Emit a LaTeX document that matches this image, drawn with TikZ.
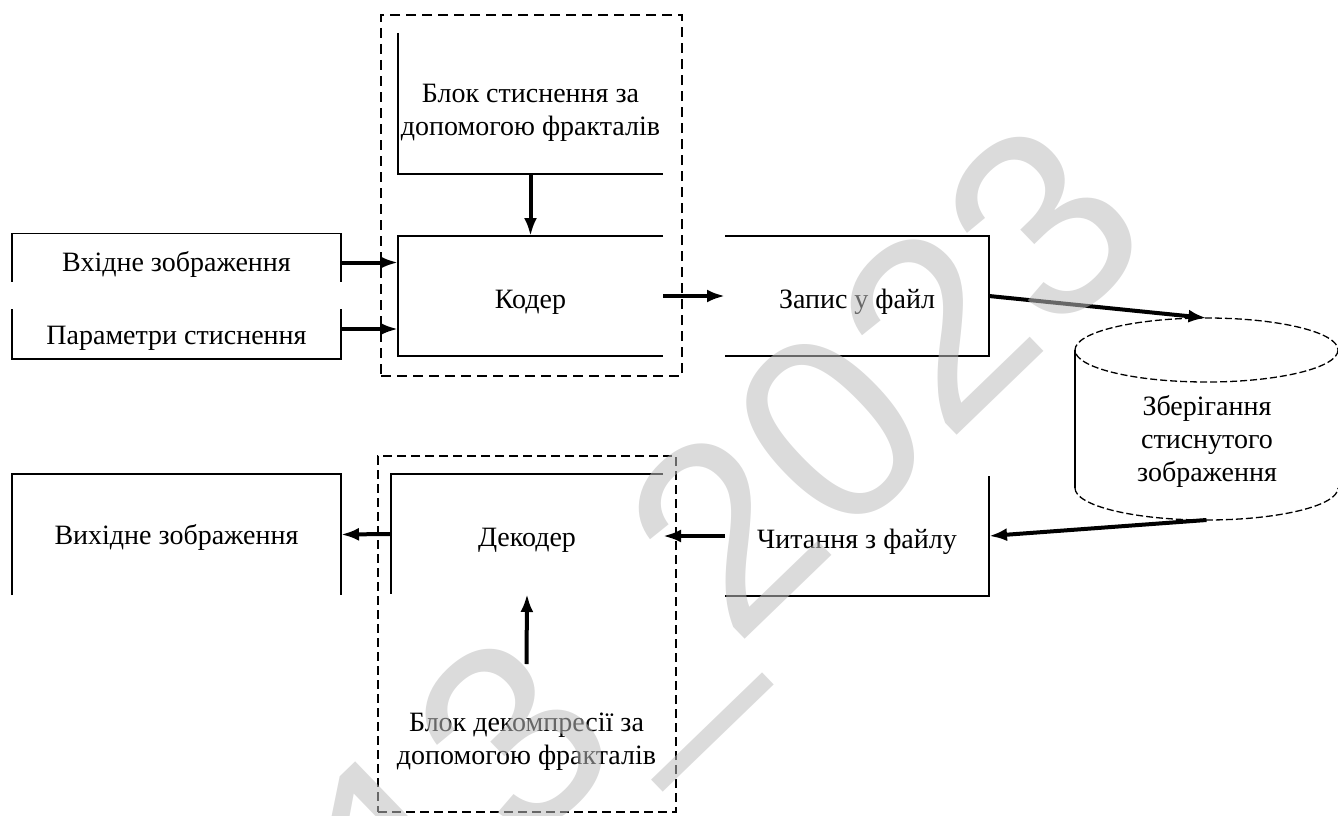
\documentclass[tikz,border=0pt]{standalone}
\usepackage{fontspec}
\setmainfont{Liberation Serif}
\newfontfamily\wmfont{Liberation Sans}
\usetikzlibrary{arrows.meta,calc}

\begin{document}
\begin{tikzpicture}[x=1pt,y=-1pt,
  blk/.style={inner sep=0pt, outer sep=0pt, align=center,
              font=\fontsize{28}{33}\selectfont},
  oneline/.style={text height=26pt, text depth=2pt},
  edge/.style={line width=1.5pt},
  arr/.style={line width=4pt, -{Latex[length=18pt,width=13pt]}},
  encframe/.style={line width=2.2pt, dash pattern=on 10pt off 6pt},
  decframe/.style={line width=1.6pt, dash pattern=on 9pt off 5pt},
  cylline/.style={line width=1.3pt, dash pattern=on 7pt off 3pt},
  wm/.style={font=\wmfont\fontsize{265}{265}\selectfont, text=black!26,
             opacity=0.55, inner sep=0pt}]

\useasboundingbox (0,0) rectangle (1338,816);

% dashed frames of the coder and decoder groups
\node[draw, encframe, minimum width=301pt, minimum height=361pt, inner sep=0pt]
  (encgroup) at (531.5,195.5) {};
\node[draw, decframe, minimum width=298pt, minimum height=356pt, inner sep=0pt]
  (decgroup) at (527,634) {};

% blocks
\node[blk, oneline, text height=20pt, minimum width=329pt, minimum height=58pt] (vhid) at (176.5,262.5) {Вхідне зображення};
\node[blk, oneline, text height=22pt, minimum width=329pt, minimum height=50pt] (param) at (176.5,334) {Параметри стиснення};
\node[blk, minimum width=265pt, minimum height=141pt, text height=69pt] (blok1) at (530.5,103.5)
  {Блок стиснення за\\допомогою фракталів};
\node[blk, oneline, minimum width=265pt, minimum height=120pt] (koder) at (530.5,296) {Кодер};
\node[blk, oneline, minimum width=264pt, minimum height=120pt] (zapys) at (857,296) {Запис у файл};
\node[blk, oneline, minimum width=264pt, minimum height=120pt] (chyt) at (857,536) {Читання з файлу};
\node[blk, oneline, minimum width=272pt, minimum height=120pt] (dekoder) at (527,534) {Декодер};
\node[blk, oneline, text height=22pt, minimum width=329pt, minimum height=121pt] (vyh) at (176.5,534.5) {Вихідне зображення};
\node[blk, minimum width=260pt, minimum height=154.6pt] (blok2) at (526.5,741.3)
  {Блок декомпресії за\\допомогою фракталів};
\node[blk] (stor) at (1207,441.5) {Зберігання\\стиснутого\\зображення};

% open outlines of the blocks
\draw[edge] ($(vhid.north west)+(0,48)$) -- (vhid.north west) -- (vhid.north east)
  -- ($(vhid.north east)+(0,48)$);
\draw[edge] (param.north west) -- (param.south west) -- (param.south east) -- (param.north east);
\draw[edge] (blok1.north west) -- (blok1.south west) -- (blok1.south east);
\draw[edge] (koder.north east) -- (koder.north west) -- (koder.south west) -- (koder.south east);
\draw[edge] (zapys.north west) -- (zapys.north east) -- (zapys.south east) -- (zapys.south west);
\draw[edge] (chyt.north east) -- (chyt.south east) -- (chyt.south west);
\draw[edge] (dekoder.north east) -- (dekoder.north west) -- (dekoder.south west);
\draw[edge] (vyh.south west) -- (vyh.north west) -- (vyh.north east) -- (vyh.south east);

% storage cylinder: dashed top, solid left wall, dashed lower rim
\coordinate (cyl) at (1206.5,350);
\coordinate (stortop) at ($(cyl)+(0,-32)$);
\coordinate (storbot) at ($(cyl)+(0,170)$);
\draw[cylline] (cyl) ellipse [x radius=131.5, y radius=32];
\draw[edge] ($(cyl)+(-131.5,0)$) -- ($(cyl)+(-131.5,138)$);
\draw[cylline] ($(cyl)+(-131.5,138)$) arc[start angle=180, end angle=0,
  x radius=131.5, y radius=32];

% data flow
\draw[arr] (vhid.east) -- (vhid.east -| koder.west);
\draw[arr] ([yshift=5pt]param.east) -- ([yshift=5pt]param.east -| koder.west);
\draw[arr] (blok1.south) -- (koder.north);
\draw[arr] (koder.east) -- (zapys.west);
\draw[arr] (zapys.east) -- (stortop);
\draw[arr] (storbot) -- (chyt.east);
\draw[arr] (chyt.west) -- (chyt.west -| dekoder.east);
\draw[arr] (blok2.north) -- (dekoder.south);
\draw[arr] (dekoder.west) -- (vyh.east);

% watermark
\node[wm, rotate=44] (mark) at (743,550) {13\_2023};

\end{tikzpicture}
\end{document}
